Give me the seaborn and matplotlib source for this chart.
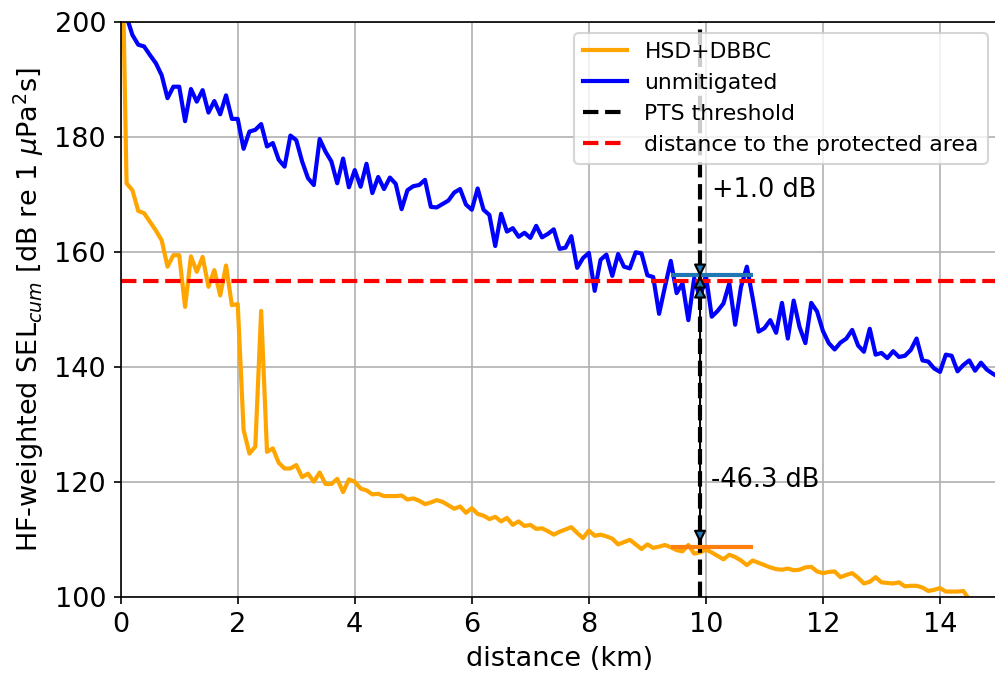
import numpy as np
import pandas as pd
import matplotlib
matplotlib.use("Agg")
import matplotlib.pyplot as plt
import seaborn as sns

distance_km = [round(0.1 * i, 1) for i in range(151)]

unmitigated = [
    205.0, 201.0, 197.8, 196.1, 195.8, 194.3, 192.9, 190.8, 186.8, 188.8,
    188.8, 182.8, 188.4, 186.2, 188.2, 184.3, 186.3, 184.0, 187.3, 183.2,
    183.2, 178.0, 181.0, 181.3, 182.3, 178.4, 179.0, 176.1, 174.9, 180.3,
    179.5, 175.8, 172.9, 171.7, 179.7, 177.5, 175.8, 172.0, 176.3, 171.3,
    174.3, 171.4, 175.4, 170.3, 173.1, 171.0, 173.0, 171.9, 167.5, 170.8,
    171.5, 171.7, 172.6, 167.9, 167.8, 168.4, 169.0, 170.4, 171.0, 168.3,
    167.4, 171.1, 167.4, 166.5, 161.1, 166.7, 163.6, 164.2, 162.7, 163.4,
    162.5, 164.6, 162.6, 163.2, 164.0, 160.6, 160.8, 162.8, 157.3, 159.0,
    159.9, 153.3, 158.7, 159.6, 155.9, 159.7, 157.5, 157.2, 160.0, 159.8,
    156.0, 155.7, 149.3, 154.0, 158.5, 152.9, 154.6, 148.2, 155.5, 152.0,
    156.0, 148.8, 149.8, 151.1, 154.6, 147.4, 154.0, 157.5, 152.0, 146.2,
    146.8, 148.2, 146.0, 151.2, 145.0, 151.6, 147.0, 144.2, 151.2, 149.7,
    146.3, 144.2, 143.1, 144.3, 145.0, 146.5, 143.8, 142.7, 146.7, 142.2,
    142.5, 141.6, 142.8, 141.8, 142.0, 143.0, 145.0, 141.2, 141.0, 139.8,
    139.2, 142.2, 142.0, 139.3, 140.4, 141.2, 139.4, 140.8, 139.6, 138.9,
    138.3,
]

hsd_dbbc = [
    228.0, 172.0, 170.8, 167.2, 166.8, 165.3, 163.8, 162.1, 157.5, 159.5,
    159.5, 150.5, 159.3, 156.6, 159.2, 154.0, 156.9, 152.5, 157.7, 150.8,
    151.0, 129.1, 125.0, 126.2, 149.8, 125.3, 125.9, 123.4, 122.4, 122.4,
    123.0, 120.9, 121.5, 120.1, 121.7, 119.7, 119.7, 120.6, 118.3, 120.5,
    120.1, 118.9, 118.6, 117.9, 118.0, 117.6, 117.6, 117.6, 117.7, 117.0,
    117.2, 116.8, 116.2, 116.5, 116.9, 116.6, 116.0, 115.4, 115.8, 114.7,
    115.5, 114.5, 114.2, 113.6, 114.0, 113.2, 113.8, 112.6, 113.2, 112.4,
    112.6, 111.9, 112.0, 111.5, 110.9, 111.4, 111.8, 112.2, 111.2, 110.3,
    111.6, 110.7, 110.9, 110.6, 110.2, 109.2, 109.6, 110.0, 109.2, 108.4,
    109.2, 108.6, 108.8, 109.1, 108.7, 108.2, 108.0, 109.1, 107.6, 107.8,
    108.3, 107.8, 107.2, 106.6, 107.4, 107.0, 106.4, 105.6, 106.4, 106.0,
    105.6, 105.2, 104.9, 104.8, 105.0, 104.7, 104.8, 105.2, 105.3, 104.5,
    104.2, 104.4, 104.5, 103.5, 103.9, 104.2, 103.4, 102.4, 102.7, 103.5,
    102.6, 102.5, 102.4, 102.6, 101.9, 102.0, 102.0, 101.7, 101.1, 101.3,
    101.6, 101.0, 101.0, 101.0, 101.1, 99.6, 99.4, 99.3, 99.1, 99.0,
    98.9,
]

pts_distance = 9.9
protected_level = 155.0
unmit_at_pts = 156.0
hsd_at_pts = 108.7
marker_span = [9.4, 10.8]
diff_labels = ["+1.0 dB", "-46.3 dB"]
series_labels = ["HSD+DBBC", "unmitigated", "PTS threshold", "distance to the protected area"]

df_u = pd.DataFrame({"distance": distance_km, "SEL": unmitigated})
df_h = pd.DataFrame({"distance": distance_km, "SEL": hsd_dbbc})

fig = plt.figure(figsize=(995 / 150, 674 / 150), dpi=150)
ax = fig.add_axes([120.7 / 995, 1 - 597.3 / 674, (998.5 - 120.7) / 995, (597.3 - 22.3) / 674])

sns.lineplot(data=df_h, x="distance", y="SEL", color="orange", lw=2, label=series_labels[0], ax=ax, estimator=None, sort=False)
sns.lineplot(data=df_u, x="distance", y="SEL", color="blue", lw=2, label=series_labels[1], ax=ax, estimator=None, sort=False)
ax.axvline(pts_distance, color="black", ls="--", lw=2, label=series_labels[2])
ax.axhline(protected_level, color="red", ls="--", lw=2, label=series_labels[3])

ax.hlines(unmit_at_pts, marker_span[0], marker_span[1], color="tab:blue", lw=2)
ax.hlines(hsd_at_pts, marker_span[0], marker_span[1], color="tab:orange", lw=2)

ax.annotate("", xy=(pts_distance, unmit_at_pts), xytext=(pts_distance, protected_level),
            arrowprops=dict(arrowstyle="<|-|>", fc="tab:blue", ec="black", lw=1, mutation_scale=12))
ax.annotate("", xy=(pts_distance, hsd_at_pts), xytext=(pts_distance, protected_level),
            arrowprops=dict(arrowstyle="<|-|>", fc="tab:blue", ec="black", lw=1, mutation_scale=12))
ax.text(pts_distance + 0.2, 170.8, diff_labels[0], fontsize=12.3, va="center")
ax.text(pts_distance + 0.18, 120.4, diff_labels[1], fontsize=12.3, va="center")

ax.set_xlim(0, 15)
ax.set_ylim(100, 200)
ax.set_xticks([0, 2, 4, 6, 8, 10, 12, 14])
ax.grid(True)
ax.set_xlabel("distance (km)", fontsize=13)
ax.set_ylabel(r"HF-weighted SEL$_{cum}$ [dB re 1 $\mu$Pa$^2$s]", fontsize=13)
ax.tick_params(labelsize=13)
ax.legend(loc="upper right", fontsize=10.5)

fig.savefig("out.png", dpi=150)
